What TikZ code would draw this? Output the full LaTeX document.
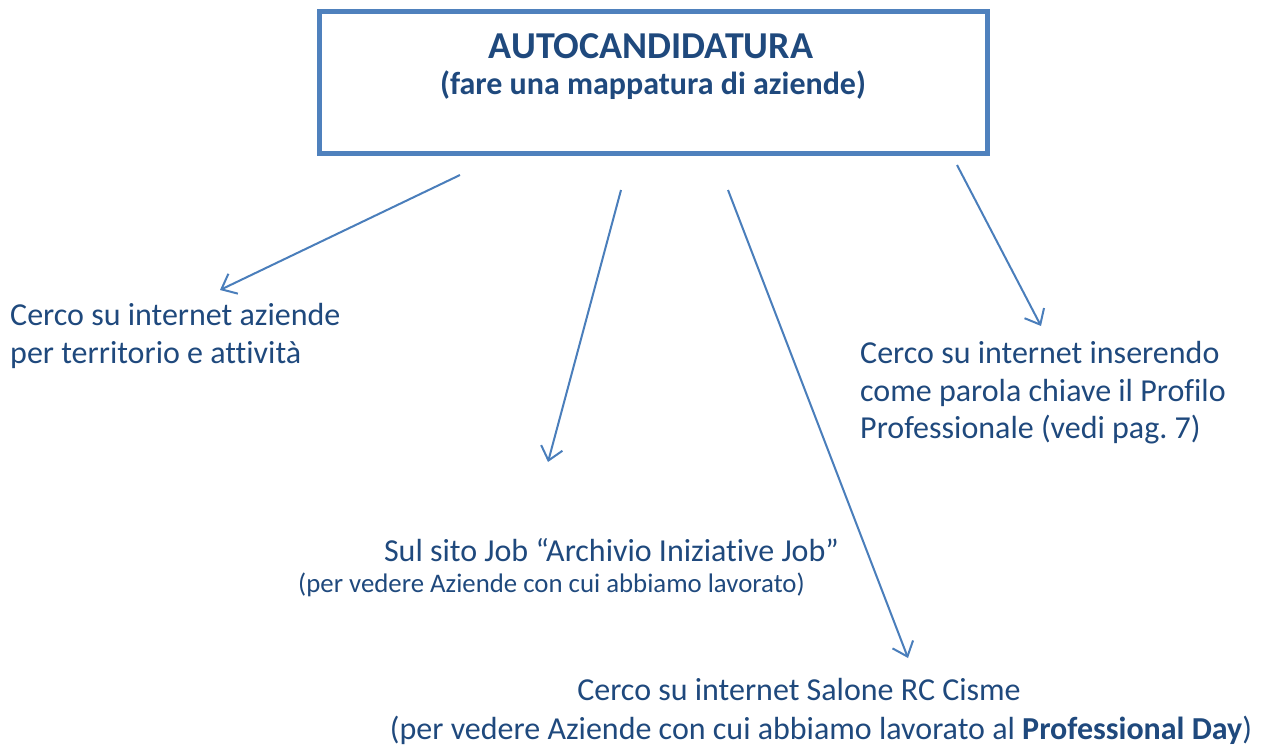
\documentclass[tikz,border=0pt]{standalone}
\usepackage{fontspec}
\setmainfont[Ligatures=NoCommon]{Carlito}
\usetikzlibrary{arrows.meta}
\definecolor{boxblue}{RGB}{79,129,189}
\definecolor{arrblue}{RGB}{74,126,187}
\definecolor{txtblue}{RGB}{31,73,125}
\frenchspacing
\begin{document}
\begin{tikzpicture}[x=1pt,y=-1pt,
  conn/.style={draw=arrblue,line width=2pt,-{Straight Barb[length=13pt,width=22pt,line width=2pt]}},
  body/.style={text=txtblue,inner sep=0pt,font=\fontsize{32}{37.5}\selectfont},
  small/.style={text=txtblue,inner sep=0pt,font=\fontsize{26.8}{30}\selectfont}]
\useasboundingbox (0,0) rectangle (1266,747);
\draw[boxblue,line width=5pt] (319,11) rectangle (987,153);
\node (box) at (653,82) {};
\node[text=txtblue,inner sep=0pt,font=\fontsize{38}{44}\bfseries\selectfont,anchor=base] (title) at (651,58) {AUTOCANDIDATURA};
\node[text=txtblue,inner sep=0pt,font=\fontsize{32}{34}\bfseries\selectfont,anchor=base] (sub) at (653,94) {(fare una mappatura di aziende)};

\node[body,align=left,anchor=west] (t1) at (10,336) {Cerco su internet aziende\\per territorio e attività};
\node[body,align=left,anchor=west] (t4) at (860,393) {Cerco su internet inserendo\\come parola chiave il Profilo\\Professionale (vedi pag.\ 7)};
\node[body,anchor=base] (t2) at (611.5,561) {Sul sito Job “Archivio Iniziative Job”};
\node[small,anchor=base] (t2b) at (551.5,592) {(per vedere Aziende con cui abbiamo lavorato)};
\node[body,anchor=base] (t3) at (799,700) {Cerco su internet Salone RC Cisme};
\node[body,anchor=base] (t3b) at (821,739) {(per vedere Aziende con cui abbiamo lavorato al \textbf{Professional Day})};

\coordinate (s1) at (460,175); \coordinate (e1) at (220,290);
\coordinate (s2) at (621,190); \coordinate (e2) at (548,462);
\coordinate (s3) at (728,190); \coordinate (e3) at (908,658);
\coordinate (s4) at (957,165); \coordinate (e4) at (1041,326);
\draw[conn] (s1) -- (e1);
\draw[conn] (s2) -- (e2);
\draw[conn] (s3) -- (e3);
\draw[conn] (s4) -- (e4);
\end{tikzpicture}
\end{document}
